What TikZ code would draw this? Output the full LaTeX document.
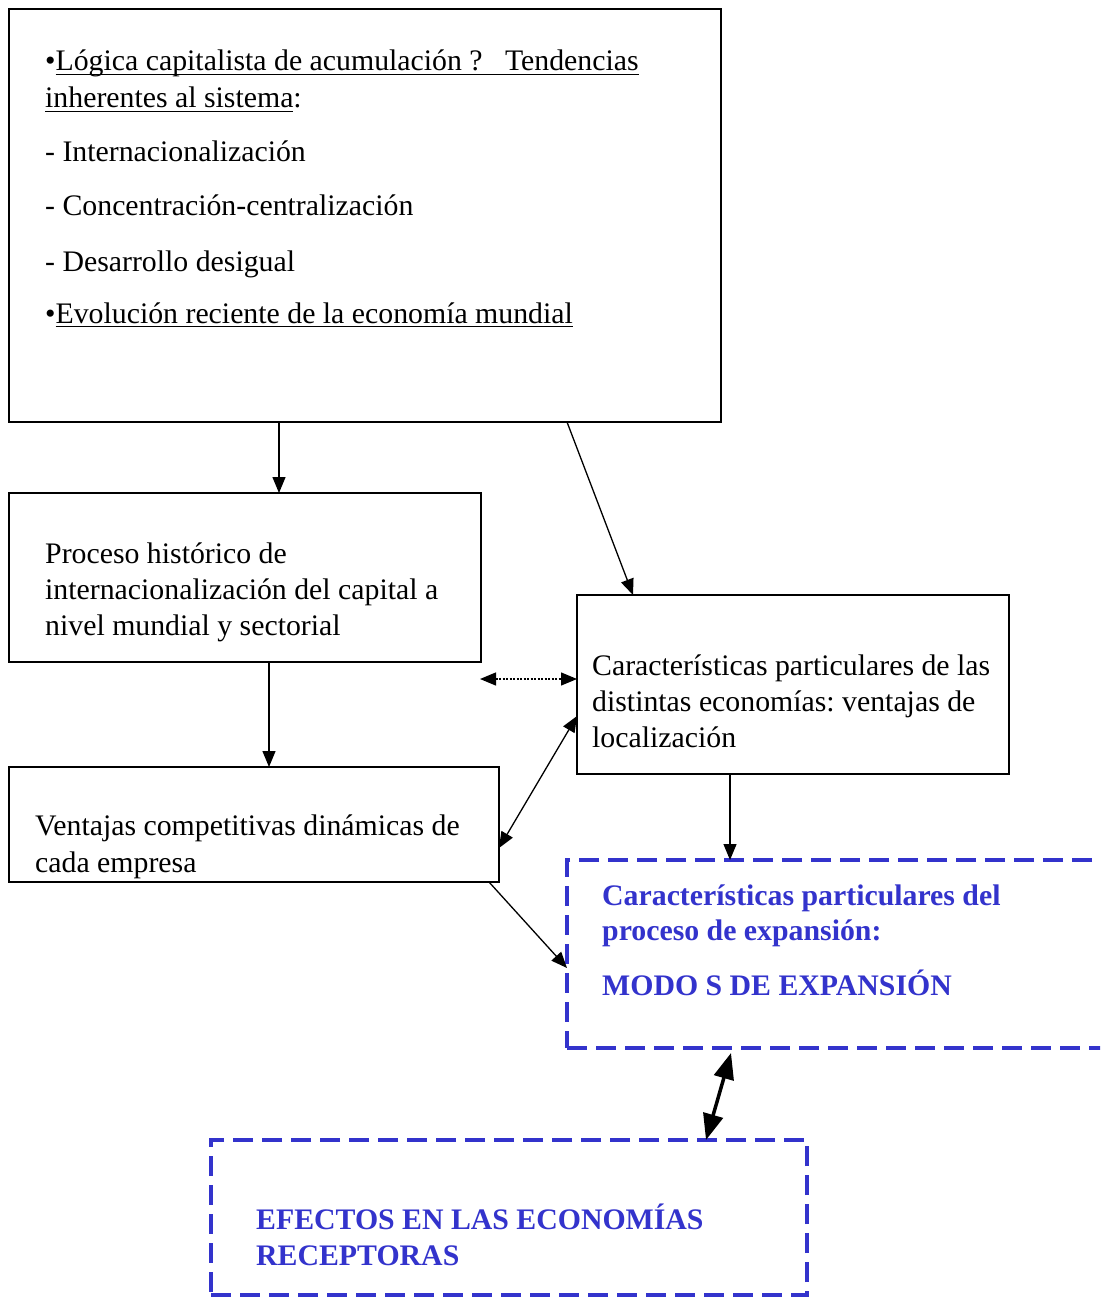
\documentclass[tikz,border=0pt]{standalone}
\usepackage{fontspec}
\setmainfont{Liberation Serif}
\usetikzlibrary{arrows.meta,calc}
\definecolor{dblue}{RGB}{51,51,204}
\frenchspacing
\newsavebox\myulbox
\newcommand\myul[1]{\sbox\myulbox{#1}\rlap{\rule[-4pt]{\wd\myulbox}{1.4pt}}\usebox\myulbox}
\begin{document}
\begin{tikzpicture}[x=1pt,y=-1pt,
  box/.style={draw=black,line width=1.4pt,rectangle,anchor=north west,inner sep=0pt,outer sep=0pt},
  dbox/.style={draw=dblue,line width=4pt,dash pattern=on 20pt off 9pt,rectangle,anchor=north west,inner sep=0pt,outer sep=0pt},
  txt/.style={inner sep=0pt,anchor=base west,font=\fontsize{29.8pt}{36pt}\selectfont},
  btxt/.style={txt,font=\fontsize{29.8pt}{36pt}\selectfont\bfseries,text=dblue},
  arr/.style={line width=1.3pt,-{Triangle[length=16pt,width=13pt]}},
  darr/.style={line width=1.3pt,{Triangle[length=16pt,width=13pt]}-{Triangle[length=16pt,width=13pt]}},
  dotarr/.style={darr,dash pattern=on 2pt off 1.5pt},
  thickarr/.style={line width=3.5pt,{Triangle[length=26pt,width=20pt]}-{Triangle[length=26pt,width=20pt]}}
]
\useasboundingbox (0,0) rectangle (1100,1297);
\clip (0,0) rectangle (1100,1297);
\fill[white] (0,0) rectangle (1100,1297);

% boxes
\node[box,minimum width=712pt,minimum height=413pt] (b1) at (9,9) {};
\node[box,minimum width=472pt,minimum height=169pt] (b2) at (9,493) {};
\node[box,minimum width=432pt,minimum height=179pt] (b3) at (577,595) {};
\node[box,minimum width=490pt,minimum height=115pt] (b4) at (9,767) {};
\node[dbox,minimum width=560pt,minimum height=188pt] (b5) at (567,860) {};
\node[dbox,minimum width=596pt,minimum height=155pt] (b6) at (211,1140) {};

% texts box 1
\node[txt] (t1a) at (45,71) {•\myul{Lógica capitalista de acumulación ?\ \ \ Tendencias}};
\node[txt] (t1b) at (45,108) {\myul{inherentes al sistema}:};
\node[txt] (t1c) at (45,162) {- Internacionalización};
\node[txt] (t1d) at (45,216) {- Concentración-centralización};
\node[txt] (t1e) at (45,271) {- Desarrollo desigual};
\node[txt] (t1f) at (45,323) {•\myul{Evolución reciente de la economía mundial}};

% box 2
\node[txt] (t2a) at (45,563) {Proceso histórico de};
\node[txt] (t2b) at (45,599) {internacionalización del capital a};
\node[txt] (t2c) at (45,635) {nivel mundial y sectorial};

% box 3
\node[txt] (t3a) at (592,675) {Características particulares de las};
\node[txt] (t3b) at (592,711) {distintas economías: ventajas de};
\node[txt] (t3c) at (592,747) {localización};

% box 4
\node[txt] (t4a) at (35,835) {Ventajas competitivas dinámicas de};
\node[txt] (t4b) at (35,872) {cada empresa};

% box 5
\node[btxt] (t5a) at (602,905) {Características particulares del};
\node[btxt] (t5b) at (602,940) {proceso de expansión:};
\node[btxt] (t5c) at (602,995) {MODO S DE EXPANSIÓN};

% box 6
\node[btxt] (t6a) at (256,1229) {EFECTOS EN LAS ECONOMÍAS};
\node[btxt] (t6b) at (256,1265) {RECEPTORAS};

% connectors
\draw[arr] ($(b1.south west)+(270,0)$) -- ($(b2.north west)+(270,0)$);
\draw[arr] ($(b1.south west)+(558,0)$) -- ($(b3.north west)+(56,0)$);
\draw[arr] ($(b2.south west)+(260,0)$) -- ($(b4.north west)+(260,0)$);
\coordinate (dl) at (480,679);
\draw[dotarr] (dl) -- ($(b3.north west)+(0,84)$);
\draw[darr] ($(b4.north east)+(0,81)$) -- ($(b3.north west)+(0,121)$);
\draw[arr] ($(b4.south east)+(-10,0)$) -- ($(b5.north west)+(0,108)$);
\draw[arr] ($(b3.south west)+(153,0)$) -- ($(b5.north west)+(163,0)$);
\draw[thickarr] ($(b5.south west)+(164,5)$) -- ($(b6.north west)+(495,0)$);
\end{tikzpicture}
\end{document}
